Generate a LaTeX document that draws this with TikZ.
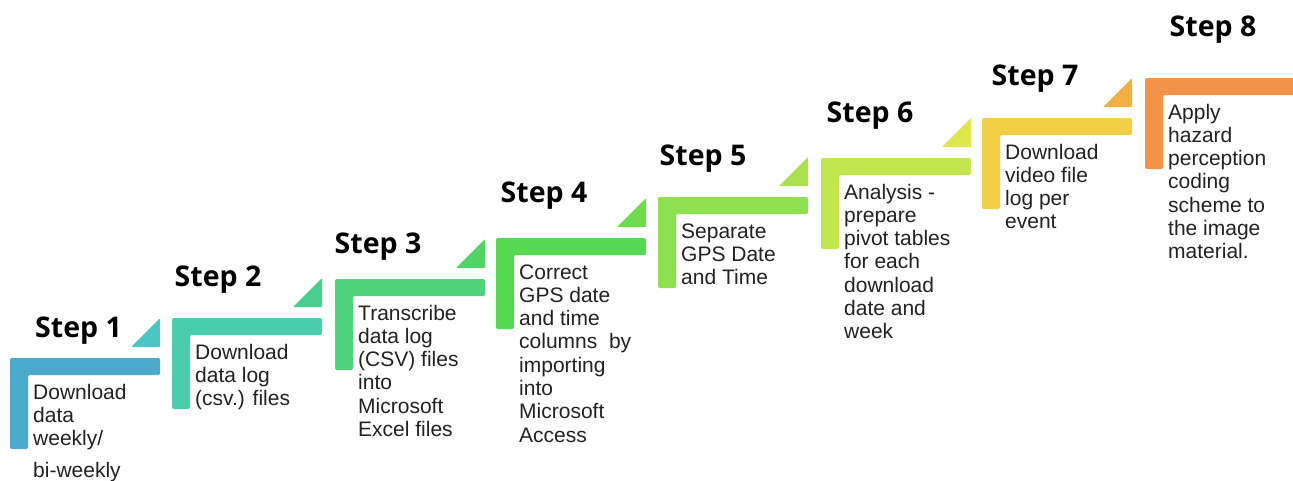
\documentclass[tikz,border=0pt]{standalone}
\usepackage{fontspec}
\setmainfont{Liberation Sans}
\newfontfamily\stepfont{Open Sans}
\definecolor{c1}{HTML}{4BA9C9}
\definecolor{t1}{HTML}{4CC6C4}
\definecolor{c2}{HTML}{49CDAA}
\definecolor{t2}{HTML}{4ACE8E}
\definecolor{c3}{HTML}{4ED27A}
\definecolor{t3}{HTML}{50D466}
\definecolor{c4}{HTML}{55D953}
\definecolor{t4}{HTML}{6EDB4C}
\definecolor{c5}{HTML}{8DE150}
\definecolor{t5}{HTML}{ABE24F}
\definecolor{c6}{HTML}{C3E64F}
\definecolor{t6}{HTML}{DDE64A}
\definecolor{c7}{HTML}{F3CF48}
\definecolor{t7}{HTML}{F1B044}
\definecolor{c8}{HTML}{F49248}
\definecolor{txt}{HTML}{222222}
\newcommand\drawstepL[3]{%
  \fill[#3,rounded corners=2pt] (#1,#2) -- (#1+150,#2) -- (#1+150,#2+17) -- (#1+18,#2+17) -- (#1+18,#2+91) -- (#1,#2+91) -- cycle;}
\newcommand\drawstepT[3]{%
  \fill[#3,rounded corners=1pt] (#1+121,#2-11) -- (#1+150,#2-11) -- (#1+150,#2-40) -- cycle;}
\tikzset{
  steplabel/.style={anchor=base,inner sep=0pt,font=\stepfont\bfseries\fontsize{28.5}{32}\selectfont,text=black},
  steptext/.style={anchor=base west,inner sep=0pt,font=\fontsize{21}{23.3}\selectfont,text=txt}
}
\newcommand\tl[1]{\begin{tabular}[t]{@{}l@{}}#1\end{tabular}}
\begin{document}
\begin{tikzpicture}[x=1pt,y=-1pt]
\useasboundingbox[fill=white] (0,0) rectangle (1293,480);
% step shapes
\drawstepL{10}{358}{c1}\drawstepT{10}{358}{t1}
\drawstepL{172}{318}{c2}\drawstepT{172}{318}{t2}
\drawstepL{335}{279}{c3}\drawstepT{335}{279}{t3}
\drawstepL{496}{238}{c4}\drawstepT{496}{238}{t4}
\drawstepL{658}{197}{c5}\drawstepT{658}{197}{t5}
\drawstepL{821}{158}{c6}\drawstepT{821}{158}{t6}
\drawstepL{982}{118}{c7}\drawstepT{982}{118}{t7}
\fill[c8,rounded corners=2pt] (1145,78) -- (1300,78) -- (1300,95) -- (1163,95) -- (1163,169) -- (1145,169) -- cycle;
% labels
\node[steplabel] (s1) at (78.5,337) {Step 1};
\node[steplabel] (s2) at (218,286) {Step 2};
\node[steplabel] (s3) at (378,253) {Step 3};
\node[steplabel] (s4) at (544,202) {Step 4};
\node[steplabel] (s5) at (703,165) {Step 5};
\node[steplabel] (s6) at (870,122) {Step 6};
\node[steplabel] (s7) at (1035,85) {Step 7};
\node[steplabel] (s8) at (1213,36) {Step 8};
% texts
\node[steptext] (d1) at (33,399) {\tl{Download\\data\\weekly/\\[9pt]bi-weekly}};
\node[steptext] (d2) at (195,359) {\tl{Download\\data log\\(csv.) files}};
\node[steptext] (d3) at (358,320) {\tl{Transcribe\\data log\\(CSV) files\\into\\Microsoft\\Excel files}};
\node[steptext] (d4) at (519,279) {\tl{Correct\\GPS date\\and time\\columns\ \ by\\importing\\into\\Microsoft\\Access}};
\node[steptext] (d5) at (681,238) {\tl{Separate\\GPS Date\\and Time}};
\node[steptext] (d6) at (844,199) {\tl{Analysis -\\prepare\\pivot tables\\for each\\download\\date and\\week}};
\node[steptext] (d7) at (1005,159) {\tl{Download\\video file\\log per\\event}};
\node[steptext] (d8) at (1168,119) {\tl{Apply\\hazard\\perception\\coding\\scheme to\\the image\\material.}};
\end{tikzpicture}
\end{document}
